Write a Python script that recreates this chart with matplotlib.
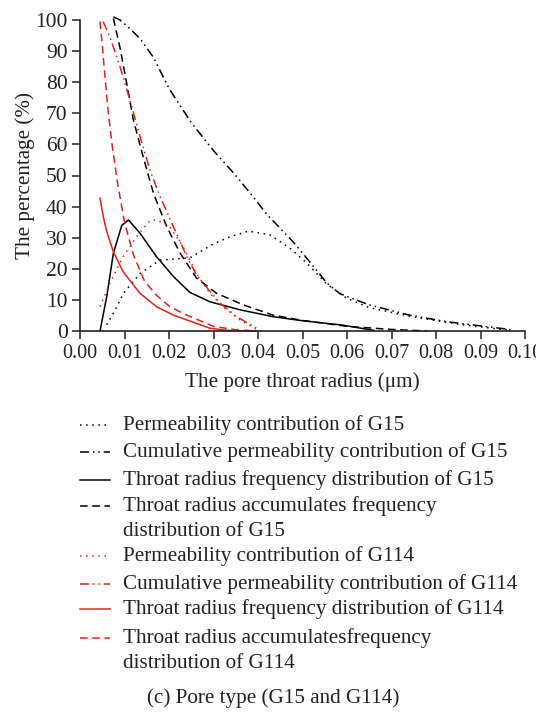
import matplotlib
matplotlib.use("Agg")
import matplotlib.pyplot as plt

plt.rcParams["font.family"] = ["Liberation Serif", "DejaVu Serif"]

RED = "#e0231c"
INK = "#222222"

# G15
g15_perm_x = [0.0060, 0.0080, 0.0097, 0.0135, 0.0180, 0.0247, 0.0270, 0.0300, 0.0337, 0.0378,
              0.0404, 0.0427, 0.0472, 0.0510, 0.0555, 0.0600, 0.0650, 0.0750, 0.0850, 0.0930,
              0.0970]
g15_perm_y = [2.0, 7.0, 12.0, 18.5, 22.8, 23.5, 25.5, 28.0, 30.3, 32.1,
              31.5, 30.9, 26.6, 21.8, 15.0, 10.5, 7.5, 4.5, 2.2, 0.8,
              0.2]

g15_cum_perm_x = [0.0075, 0.0090, 0.0110, 0.0135, 0.0165, 0.0200, 0.0250, 0.0300, 0.0350, 0.0390,
                  0.0420, 0.0450, 0.0480, 0.0513, 0.0555, 0.0584, 0.0650, 0.0740, 0.0824, 0.0914,
                  0.0960, 0.0975]
g15_cum_perm_y = [101.0, 100.0, 97.5, 94.0, 88.0, 78.0, 67.0, 58.0, 50.0, 43.0,
                  37.5, 33.0, 28.5, 22.8, 15.4, 12.0, 8.4, 5.1, 3.0, 1.4,
                  0.6, 0.0]

g15_freq_x = [0.0045, 0.0060, 0.0075, 0.0094, 0.0109, 0.0135, 0.0172, 0.0210, 0.0247,
              0.0292, 0.0360, 0.0434, 0.0500, 0.0590, 0.0660]
g15_freq_y = [0.0, 11.0, 25.0, 34.0, 35.7, 31.4, 23.9, 17.5, 12.4,
              9.4, 6.8, 4.6, 3.3, 1.9, 0.2]

g15_acc_x = [0.0075, 0.0090, 0.0105, 0.0120, 0.0142, 0.0165, 0.0195, 0.0225, 0.0262,
             0.0307, 0.0367, 0.0434, 0.0500, 0.0600, 0.0700, 0.0780]
g15_acc_y = [100.5, 91.0, 79.6, 67.8, 56.0, 44.3, 33.5, 25.0, 17.0,
             12.1, 8.4, 5.1, 3.4, 1.5, 0.5, 0.0]

# G114
g114_perm_x = [0.0045, 0.0067, 0.0097, 0.0127, 0.0157, 0.0172, 0.0202, 0.0232, 0.0262,
               0.0292, 0.0322, 0.0360, 0.0397]
g114_perm_y = [7.8, 15.3, 23.9, 30.3, 35.5, 35.7, 33.5, 27.0, 18.5,
               12.1, 7.8, 3.5, 0.5]

g114_cum_perm_x = [0.0052, 0.0067, 0.0090, 0.0112, 0.0135, 0.0157, 0.0180, 0.0210, 0.0240,
                   0.0262, 0.0277, 0.0315, 0.0352, 0.0397]
g114_cum_perm_y = [99.5, 94.6, 85.0, 74.3, 62.5, 51.8, 43.2, 33.5, 23.9,
                   18.0, 15.3, 8.9, 4.6, 0.9]

g114_freq_x = [0.0045, 0.0052, 0.0060, 0.0075, 0.0097, 0.0135, 0.0172, 0.0210, 0.0247,
               0.0292, 0.0337, 0.0400]
g114_freq_y = [42.7, 37.0, 32.0, 25.5, 19.0, 12.1, 7.8, 5.1, 3.2,
               0.9, 0.1, 0.0]

g114_acc_x = [0.0045, 0.0050, 0.0056, 0.0063, 0.0072, 0.0085, 0.0100, 0.0120, 0.0145, 0.0172,
              0.0202, 0.0240, 0.0300, 0.0350, 0.0400]
g114_acc_y = [99.5, 92.0, 82.0, 71.0, 60.0, 47.0, 35.0, 24.5, 16.0, 11.5,
              7.8, 5.1, 1.5, 0.4, 0.0]

x_ticks = [0.00, 0.01, 0.02, 0.03, 0.04, 0.05, 0.06, 0.07, 0.08, 0.09, 0.10]
y_ticks = [0, 10, 20, 30, 40, 50, 60, 70, 80, 90, 100]

DOT = (0, (1, 3))
DASHDOT = (0, (6, 2.5, 1, 2.5, 1, 2.5))
DASH = (0, (5, 3))

series = [
    (g15_perm_x, g15_perm_y, "black", DOT, ["Permeability contribution of G15"]),
    (g15_cum_perm_x, g15_cum_perm_y, "black", DASHDOT, ["Cumulative permeability contribution of G15"]),
    (g15_freq_x, g15_freq_y, "black", "-", ["Throat radius frequency distribution of G15"]),
    (g15_acc_x, g15_acc_y, "black", DASH, ["Throat radius accumulates frequency", "distribution of G15"]),
    (g114_perm_x, g114_perm_y, RED, DOT, ["Permeability contribution of G114"]),
    (g114_cum_perm_x, g114_cum_perm_y, RED, DASHDOT, ["Cumulative permeability contribution of G114"]),
    (g114_freq_x, g114_freq_y, RED, "-", ["Throat radius frequency distribution of G114"]),
    (g114_acc_x, g114_acc_y, RED, DASH, ["Throat radius accumulatesfrequency", "distribution of G114"]),
]

FS = 15.2
W, H = 536, 716
fig = plt.figure(figsize=(W / 100, H / 100), dpi=100)
ax = fig.add_axes([80 / W, 1 - 331 / H, 445 / W, 311 / H])

for x, y, c, ls, _ in series:
    ax.plot(x, y, color=c, linestyle=ls, linewidth=1.1, clip_on=False)

ax.set_xlim(0, 0.10)
ax.set_ylim(0, 100)
ax.set_xticks(x_ticks)
ax.set_xticklabels([f"{t:.2f}" for t in x_ticks])
ax.set_yticks(y_ticks)
for s in ("top", "right"):
    ax.spines[s].set_visible(False)
for s in ("left", "bottom"):
    ax.spines[s].set_color(INK)
    ax.spines[s].set_linewidth(1.2)
ax.tick_params(direction="out", length=6, width=1.1, color=INK, labelcolor=INK, pad=3)
ax.tick_params(axis="x", labelsize=14.5)
ax.tick_params(axis="y", labelsize=15.5)
ax.set_xlabel("The pore throat radius (μm)", fontsize=FS, color=INK, labelpad=7)
ax.set_ylabel("The percentage (%)", fontsize=FS, color=INK, labelpad=0)

# legend and caption drawn in pixel coordinates below the plot
lg = fig.add_axes([0, 0, 1, 1])
lg.set_xlim(0, W)
lg.set_ylim(H, 0)
lg.axis("off")
row_y = [425, 452, 480, 506, 556, 584, 609, 638]
for (x, y, c, ls, lines), ry in zip(series, row_y):
    lg.plot([80, 110], [ry, ry], color=c, linestyle=ls, linewidth=1.1)
    for k, txt in enumerate(lines):
        lg.text(123, ry + 25 * k, txt, fontsize=FS, color=INK, va="center", ha="left")

lg.text(273, 698, "(c) Pore type (G15 and G114)", fontsize=FS, color=INK,
        va="center", ha="center")

fig.savefig("out.png", dpi=100)
